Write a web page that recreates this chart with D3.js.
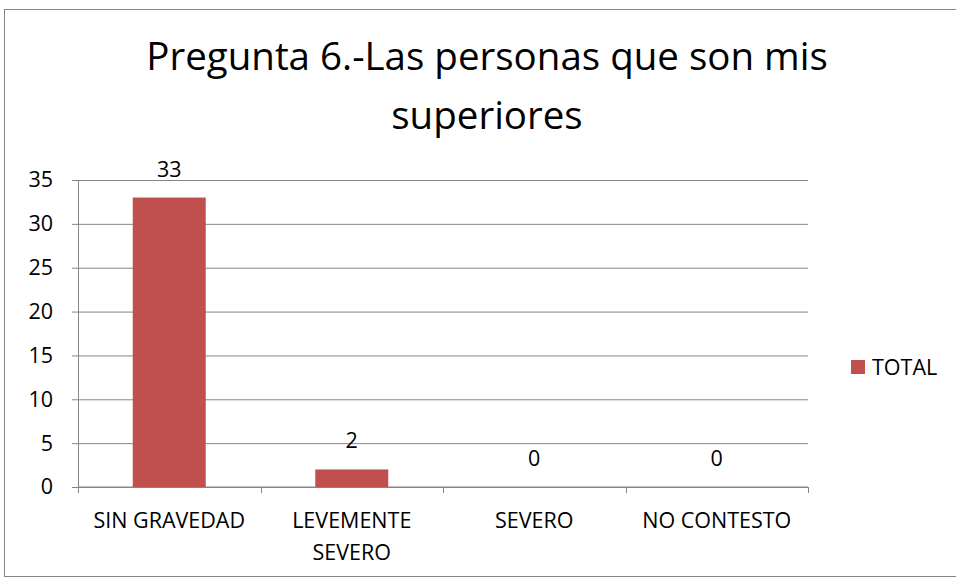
<!DOCTYPE html>
<html>
<head>
<meta charset="utf-8">
<script src="https://cdn.jsdelivr.net/npm/d3@7"></script>
<style>
  body { margin: 0; background: #fff; }
  svg { display: block; font-family: "Open Sans", sans-serif; }
</style>
</head>
<body>
<div id="chart"></div>
<script>
// data
var categories = ["SIN GRAVEDAD", "LEVEMENTE SEVERO", "SEVERO", "NO CONTESTO"];
var totals = [33, 2, 0, 0];
var yTicks = [0, 5, 10, 15, 20, 25, 30, 35];
var seriesName = "TOTAL";
var titleLines = ["Pregunta 6.-Las personas que son mis", "superiores"];

var width = 956, height = 579;
var margin = {top: 180, right: 148, bottom: 92, left: 78};
var plotW = width - margin.left - margin.right;
var plotH = height - margin.top - margin.bottom;
var barColor = "#C0504D";
var fontSz = 21.5;

var svg = d3.select("#chart").append("svg")
  .attr("width", width)
  .attr("height", height);

// outer frame
svg.append("rect")
  .attr("x", 4.5).attr("y", 9.5)
  .attr("width", 960).attr("height", 567)
  .attr("fill", "none")
  .attr("stroke", "#868686")
  .attr("stroke-width", 1);

// title
svg.append("text")
  .attr("text-anchor", "middle")
  .attr("font-size", 38.5)
  .attr("fill", "#000")
  .selectAll("tspan")
  .data(titleLines)
  .enter().append("tspan")
  .attr("x", 487)
  .attr("y", function(d, i) { return 70 + i * 59; })
  .text(function(d) { return d; });

var g = svg.append("g")
  .attr("transform", "translate(" + margin.left + "," + margin.top + ")");

// scales
var x = d3.scaleBand()
  .domain(categories)
  .range([0, plotW]);

var y = d3.scaleLinear()
  .domain([0, 35])
  .range([plotH, 0]);

var barW = x.bandwidth() / 2.5;

// gridlines + y axis
var yAxis = d3.axisLeft(y)
  .tickValues(yTicks)
  .tickSizeInner(-plotW)
  .tickSizeOuter(0)
  .tickPadding(25);

var yg = g.append("g").attr("class", "y axis").call(yAxis);
yg.select(".domain").remove();
yg.selectAll(".tick line")
  .attr("x1", -6)
  .attr("stroke", "#868686");
yg.selectAll(".tick text")
  .attr("font-size", fontSz)
  .attr("font-family", "'Open Sans', sans-serif")
  .attr("fill", "#000");

// y axis line
g.append("line")
  .attr("x1", 0.5).attr("x2", 0.5)
  .attr("y1", 0).attr("y2", plotH)
  .attr("stroke", "#868686");

// x axis
var xg = g.append("g")
  .attr("transform", "translate(0," + plotH + ")");
xg.append("line")
  .attr("x1", 0).attr("x2", plotW)
  .attr("stroke", "#868686");
var xTickPos = categories.map(function(c) { return x(c); }).concat([plotW]);
xg.selectAll(".xtick")
  .data(xTickPos)
  .enter().append("line")
  .attr("class", "xtick")
  .attr("x1", function(d) { return Math.round(d) + 0.5; })
  .attr("x2", function(d) { return Math.round(d) + 0.5; })
  .attr("y1", 0).attr("y2", 6)
  .attr("stroke", "#868686");

// category labels (wrapped like excel)
var catLabel = xg.selectAll(".cat")
  .data(categories)
  .enter().append("text")
  .attr("class", "cat")
  .attr("text-anchor", "middle")
  .attr("font-size", fontSz)
  .attr("fill", "#000");
catLabel.each(function(d) {
  var lines = d === "LEVEMENTE SEVERO" ? ["LEVEMENTE", "SEVERO"] : [d];
  var cx = x(d) + x.bandwidth() / 2;
  d3.select(this).selectAll("tspan")
    .data(lines)
    .enter().append("tspan")
    .attr("x", cx)
    .attr("y", function(l, i) { return 41 + i * 32; })
    .text(function(l) { return l; });
});

// bars
g.selectAll(".bar")
  .data(totals)
  .enter().append("rect")
  .attr("class", "bar")
  .attr("x", function(d, i) { return x(categories[i]) + (x.bandwidth() - barW) / 2; })
  .attr("y", function(d) { return y(d); })
  .attr("width", barW)
  .attr("height", function(d) { return plotH - y(d); })
  .attr("fill", barColor);

// value labels
g.selectAll(".val")
  .data(totals)
  .enter().append("text")
  .attr("class", "val")
  .attr("text-anchor", "middle")
  .attr("font-size", fontSz)
  .attr("fill", "#000")
  .attr("x", function(d, i) { return x(categories[i]) + x.bandwidth() / 2; })
  .attr("y", function(d) { return y(d) - 21; })
  .text(function(d) { return d; });

// legend
var legend = svg.append("g")
  .attr("transform", "translate(851,360)");
legend.append("rect")
  .attr("width", 14).attr("height", 14)
  .attr("fill", barColor);
legend.append("text")
  .attr("x", 21).attr("y", 7)
  .attr("dy", "0.35em")
  .attr("font-size", fontSz)
  .attr("fill", "#000")
  .text(seriesName);
</script>
</body>
</html>
